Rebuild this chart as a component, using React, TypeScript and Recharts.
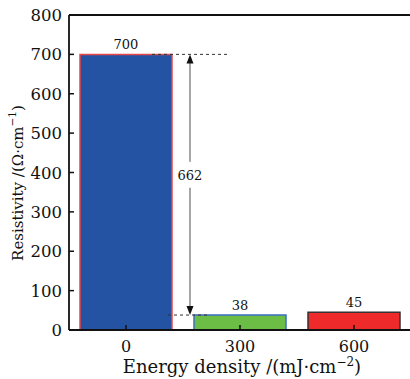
import React from 'react';
import { BarChart, Bar, XAxis, YAxis, Cell, LabelList, ReferenceLine, Label } from 'recharts';

const energy = ['0', '300', '600'];
const resistivity = [700, 38, 45];
const yTicks = [0, 100, 200, 300, 400, 500, 600, 700, 800];

const barFills = ['#2453a3', '#6bbd45', '#ee2a2a'];
const barStrokes = ['#e8474a', '#3a6fc4', '#333333'];

const data = energy.map((e, i) => ({ energy: e, value: resistivity[i] }));

const FONT = '"DejaVu Serif", serif';

function YTick(props: any) {
  const { x, y, payload } = props;
  const axisX = x + 7;
  return (
    <g>
      <line x1={axisX} x2={axisX + 5} y1={y} y2={y} stroke="#111" strokeWidth={1.5} />
      <text x={x} y={y + 6} textAnchor="end" fontFamily={FONT} fontSize={16.5} fill="#111">
        {payload.value}
      </text>
    </g>
  );
}

function XTick(props: any) {
  const { x, y, payload } = props;
  return (
    <g>
      <line x1={x} x2={x} y1={y} y2={y - 5} stroke="#111" strokeWidth={1.5} />
      <text x={x} y={y + 22} textAnchor="middle" fontFamily={FONT} fontSize={16} fill="#111">
        {payload.value}
      </text>
    </g>
  );
}

// double arrow between the first two bars, computed from the first bar's geometry
function DiffMarker(props: any) {
  const { x, y, width, height, index } = props;
  if (index !== 0) return null;
  const bottom = y + height;
  const perUnit = height / resistivity[0];
  const yLow = bottom - resistivity[1] * perUnit;
  const right = x + width;
  const ax = right + 18;
  const mid = (y + yLow) / 2 - 10;
  return (
    <g>
      <line x1={right - 20} x2={right + 55} y1={y} y2={y} stroke="#333" strokeWidth={1} strokeDasharray="3 3" />
      <line x1={right - 4} x2={right + 35} y1={yLow} y2={yLow} stroke="#333" strokeWidth={1} strokeDasharray="3 3" />
      <line x1={ax} x2={ax} y1={y + 8} y2={mid - 13} stroke="#888" strokeWidth={1.5} />
      <line x1={ax} x2={ax} y1={mid + 13} y2={yLow - 8} stroke="#888" strokeWidth={1.5} />
      <polygon points={`${ax},${y} ${ax - 3.5},${y + 9} ${ax + 3.5},${y + 9}`} fill="#111" />
      <polygon points={`${ax},${yLow} ${ax - 3.5},${yLow - 9} ${ax + 3.5},${yLow - 9}`} fill="#111" />
      <text x={ax} y={mid + 5} textAnchor="middle" fontFamily={FONT} fontSize={13} fill="#111">
        {resistivity[0] - resistivity[1]}
      </text>
    </g>
  );
}

function XLabel(props: any) {
  const { viewBox } = props;
  const cx = viewBox.x + viewBox.width / 2 + 2;
  return (
    <text x={cx} y={viewBox.y + 43} textAnchor="middle" fontFamily={FONT} fontSize={18} fill="#111">
      Energy density /(mJ·cm
      <tspan dy={-7} fontSize={12}>−2</tspan>
      <tspan dy={7}>)</tspan>
    </text>
  );
}

function YLabel() {
  const cx = 18;
  const cy = 183;
  return (
    <text
      x={cx}
      y={cy}
      transform={`rotate(-90 ${cx} ${cy})`}
      textAnchor="middle"
      dominantBaseline="central"
      fontFamily={FONT}
      fontSize={15}
      fill="#111"
    >
      Resistivity /(Ω·cm
      <tspan dy={-6} fontSize={10.5}>−1</tspan>
      <tspan dy={6}>)</tspan>
    </text>
  );
}

export default function App() {
  return (
    <div style={{ position: 'absolute', left: 0, top: 0, width: 410, height: 379, overflow: 'hidden', background: '#fff' }}>
      <BarChart width={420} height={379} data={data} margin={{ top: 15, right: 9, bottom: 0, left: 0 }}>
        <XAxis
          dataKey="energy"
          height={49}
          tickLine={false}
          tickSize={0}
          tickMargin={0}
          tick={<XTick />}
          axisLine={{ stroke: '#111', strokeWidth: 1.8 }}
        >
          <Label content={<XLabel />} />
        </XAxis>
        <YAxis
          width={69}
          domain={[0, 800]}
          ticks={yTicks}
          tickLine={false}
          tickSize={0}
          tickMargin={7}
          tick={<YTick />}
          axisLine={{ stroke: '#111', strokeWidth: 1.8 }}
        >
          <Label content={<YLabel />} />
        </YAxis>
        <ReferenceLine y={800} stroke="#111" strokeWidth={2} />
        <Bar dataKey="value" barSize={92} isAnimationActive={false}>
          {data.map((d, i) => (
            <Cell key={d.energy} fill={barFills[i]} stroke={barStrokes[i]} strokeWidth={1.5} />
          ))}
          <LabelList dataKey="value" position="top" offset={5} fontFamily={FONT} fontSize={13} fill="#111" />
          <LabelList dataKey="value" content={<DiffMarker />} />
        </Bar>
      </BarChart>
    </div>
  );
}
